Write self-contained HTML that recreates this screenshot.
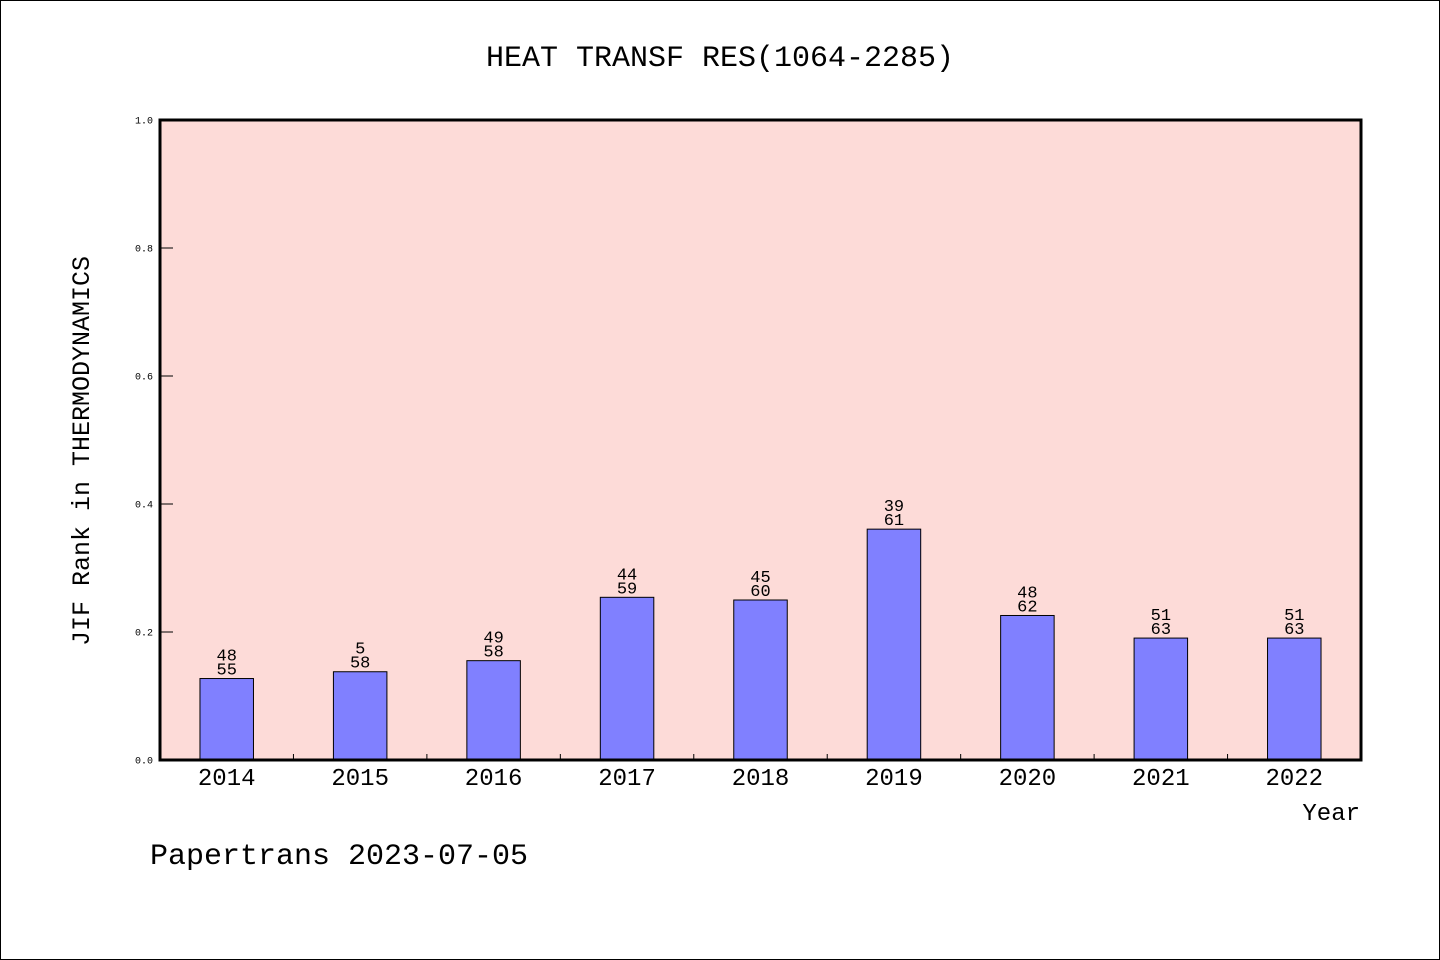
<!DOCTYPE html>
<html><head><meta charset="utf-8"><style>
html,body{margin:0;padding:0;background:#fff}
svg{display:block}
text{font-family:"Liberation Mono","DejaVu Sans Mono",monospace;fill:#000}
</style></head><body>
<svg id="chart" width="1440" height="960">
<rect x="0.5" y="0.5" width="1439" height="959" fill="#fff" stroke="#000"/>
<text x="720" y="66" font-size="30" text-anchor="middle">HEAT TRANSF RES(1064-2285)</text>
<rect x="160" y="120" width="1201" height="640" fill="#fddbd8"/>
<g id="marks"></g>
<rect x="160" y="120" width="1201" height="640" fill="none" stroke="#000" stroke-width="3"/>
<text transform="translate(89,451) rotate(-90)" font-size="25" text-anchor="middle">JIF Rank in THERMODYNAMICS</text>
<text x="1360" y="820" font-size="24" text-anchor="end">Year</text>
<text x="150" y="864" font-size="30">Papertrans 2023-07-05</text>
</svg>
<script>
const years=["2014","2015","2016","2017","2018","2019","2020","2021","2022"];
const ranks=["48","5","49","44","45","39","48","51","51"];
const totals=["55","58","58","59","60","61","62","63","63"];
const values=[0.1273,0.1379,0.1552,0.2542,0.25,0.3607,0.2258,0.1905,0.1905];
const yTicks=[0,0.2,0.4,0.6,0.8,1.0];
const yTickLabels=["0.0","0.2","0.4","0.6","0.8","1.0"];
const NS="http://www.w3.org/2000/svg";
const g=document.getElementById('marks');
const X0=160,W=1201,Y0=760,H=640;
const step=W/years.length;
const xc=i=>X0+step*(i+0.5);
const y=v=>Y0-v*H;
function mk(t,a){const e=document.createElementNS(NS,t);for(const k in a)e.setAttribute(k,a[k]);g.appendChild(e);return e;}
yTicks.forEach((v,i)=>{
 const l=mk('line',{x1:X0,x2:X0+13,y1:y(v),y2:y(v),stroke:'#000','stroke-width':1});
 
 
 const t=mk('text',{x:X0-7,y:y(v)+3.5,'font-size':10,'text-anchor':'end'});
 t.textContent=yTickLabels[i];
 
 
});
years.forEach((yr,i)=>{
 if(i>0){const l=mk('line',{x1:X0+step*i,x2:X0+step*i,y1:Y0,y2:Y0-6,stroke:'#000','stroke-width':1});
 
 }
 const bw=53.5;
 const r=mk('rect',{x:xc(i)-bw/2,y:y(values[i]),width:bw,height:Y0-y(values[i]),fill:'#8080ff',stroke:'#000','stroke-width':1});
 
 
 const t1=mk('text',{x:xc(i),y:y(values[i])-18,'font-size':17,'text-anchor':'middle'});
 t1.textContent=ranks[i];
 
 
 const t2=mk('text',{x:xc(i),y:y(values[i])-4,'font-size':17,'text-anchor':'middle'});
 t2.textContent=totals[i];
 
 
 const t3=mk('text',{x:xc(i),y:785,'font-size':24,'text-anchor':'middle'});
 t3.textContent=yr;
 
 
});
</script>
</body></html>
